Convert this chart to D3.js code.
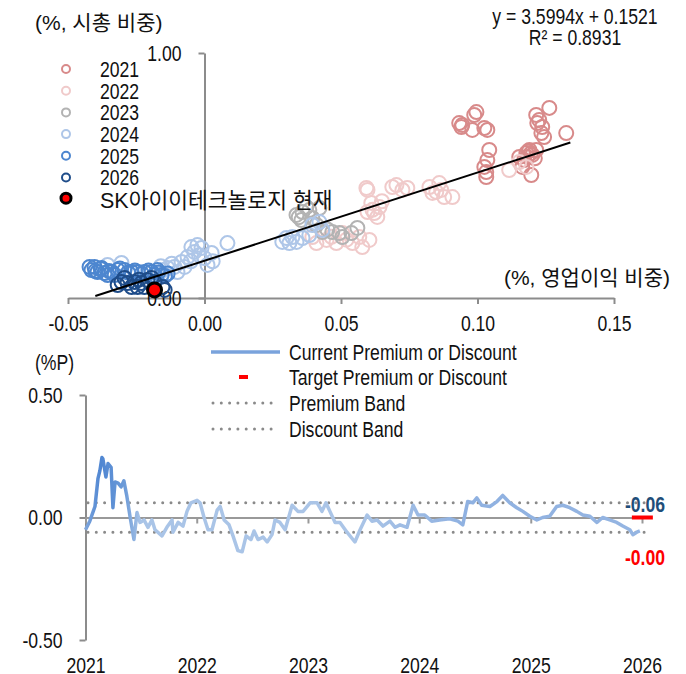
<!DOCTYPE html>
<html>
<head>
<meta charset="utf-8">
<script src="https://cdn.jsdelivr.net/npm/d3@7"></script>
<style>
  body { margin: 0; background: #fff; }
  svg { display: block; }
  text { font-family: "Liberation Sans", Arial, "Noto Sans CJK KR", sans-serif; fill: #111; }
</style>
</head>
<body>
<svg id="chart" width="686" height="674"></svg>
<script>
// ---------------- DATA ----------------
const scatterYears = ["2021", "2022", "2023", "2024", "2025", "2026"];
const scatterColors = ["#d88a8a", "#f0caca", "#b3b3b3", "#aec6e8", "#4d86cf", "#1f4d8a"];

const pts2021 = [[0.0941,0.698],[0.0944,0.706],[0.0988,0.747],[0.0996,0.759],[0.0981,0.686],[0.1025,0.694],[0.1036,0.686],[0.0933,0.714],
  [0.1043,0.604],[0.1036,0.563],[0.1025,0.535],[0.1032,0.514],[0.1032,0.494],
  [0.1263,0.776],[0.1215,0.747],[0.1226,0.727],[0.1219,0.714],[0.1237,0.698],[0.1234,0.673],[0.1244,0.657],[0.1325,0.673],
  [0.1179,0.592],[0.1190,0.604],[0.1201,0.584],[0.1171,0.563],[0.1182,0.576],[0.1215,0.604],[0.1164,0.535],[0.1197,0.502],[0.1153,0.576],
  [0.1195,0.590],[0.1210,0.570],[0.1185,0.598]];
const pts2022 = [[0.0597,0.441],[0.0593,0.449],[0.0611,0.388],[0.0641,0.371],[0.0622,0.347],[0.0633,0.331],[0.0597,0.351],
  [0.0688,0.453],[0.0725,0.441],[0.0743,0.449],[0.0703,0.461],[0.0824,0.453],[0.0849,0.433],[0.0867,0.441],[0.0878,0.412],
  [0.0908,0.412],[0.0835,0.429],[0.0860,0.469],[0.1116,0.522],[0.1179,0.535],[0.1153,0.555],
  [0.0447,0.237],[0.0483,0.224],[0.0542,0.224],[0.0604,0.237],[0.0505,0.265],[0.0567,0.249],[0.0410,0.224],[0.0395,0.249],[0.0578,0.208],
  [0.0615,0.360],[0.0650,0.395],[0.0465,0.250],[0.0520,0.238]];
const pts2023 = [[0.0337,0.339],[0.0359,0.351],[0.0373,0.371],[0.0355,0.318],[0.0395,0.327],[0.0432,0.269],[0.0468,0.269],
  [0.0494,0.265],[0.0505,0.249],[0.0560,0.286],[0.0538,0.265],[0.0410,0.298],[0.0384,0.359],[0.0421,0.367],[0.0345,0.330],[0.0450,0.280]];
const pts2024 = [[-0.0110,0.127],[-0.0084,0.147],[-0.0062,0.167],[-0.0037,0.188],[-0.0026,0.216],[-0.0048,0.208],[-0.0073,0.127],
  [-0.0099,0.106],[0.0011,0.135],[0.0000,0.163],[0.0084,0.224],[-0.0135,0.122],[0.0026,0.184],[-0.0011,0.204],[-0.0355,0.135],[-0.0304,0.143],
  [-0.0150,0.114],[-0.0120,0.140],[-0.0050,0.150],[-0.0020,0.175],[0.0030,0.150],[-0.0160,0.130],
  [0.0285,0.229],[0.0311,0.224],[0.0337,0.229],[0.0359,0.245],[0.0395,0.298],[0.0421,0.310],[0.0322,0.249],[0.0432,0.278],[0.0384,0.257],[0.0300,0.245]];
const pts2025 = [[-0.0414,0.114],[-0.0403,0.127],[-0.0392,0.106],[-0.0366,0.102],[-0.0340,0.106],[-0.0318,0.114],[-0.0293,0.114],
  [-0.0267,0.106],[-0.0245,0.106],[-0.0220,0.106],[-0.0194,0.106],[-0.0172,0.114],[-0.0157,0.094],[-0.0377,0.122],[-0.0355,0.094],
  [-0.0421,0.127],[-0.0183,0.094],[-0.0329,0.094],[-0.0400,0.110],[-0.0380,0.118],[-0.0350,0.110],[-0.0310,0.120],[-0.0280,0.104],
  [-0.0255,0.112],[-0.0230,0.100],[-0.0205,0.112],[-0.0170,0.104],[-0.0145,0.090],[-0.0135,0.100]];
const pts2026 = [[-0.0304,0.065],[-0.0282,0.061],[-0.0256,0.065],[-0.0231,0.061],[-0.0209,0.073],[-0.0267,0.045],[-0.0245,0.045],
  [-0.0220,0.045],[-0.0183,0.065],[-0.0154,0.045],[-0.0293,0.082],[-0.0194,0.082],[-0.0318,0.053],[-0.0146,0.033],[-0.0240,0.075]];
const currentPoint = [-0.0183, 0.033];
const currentLabel = "SK아이이테크놀로지 현재";

const trendSlope = 3.5994, trendIntercept = 0.1521, trendR2 = 0.8931;
const trendRange = [-0.04, 0.134];

const scatterXTicks = [-0.05, 0, 0.05, 0.10, 0.15];
const scatterYTicks = [0, 1];

const lineDates = ["2021-01-01","2021-01-15","2021-02-01","2021-02-11","2021-02-17","2021-02-24","2021-02-27","2021-03-09","2021-03-16","2021-03-26",
  "2021-04-01","2021-04-08","2021-04-18","2021-04-28","2021-05-07","2021-05-17","2021-05-27","2021-06-09","2021-06-19","2021-06-29",
  "2021-07-12","2021-07-25","2021-08-07","2021-08-17","2021-09-09","2021-09-25","2021-10-12","2021-10-15","2021-11-01","2021-11-17",
  "2021-11-30","2021-12-13","2022-01-02","2022-01-12","2022-01-25","2022-02-07","2022-02-20","2022-03-09","2022-03-19","2022-04-01",
  "2022-04-17","2022-04-30","2022-05-16","2022-05-30","2022-06-12","2022-06-28","2022-07-08","2022-07-21","2022-08-07","2022-08-20",
  "2022-09-05","2022-09-15","2022-10-01","2022-10-18","2022-11-10","2022-11-29","2022-12-16","2023-01-08","2023-01-31","2023-02-16",
  "2023-03-01","2023-03-14","2023-03-31","2023-04-16","2023-05-09","2023-06-04","2023-06-21","2023-07-14","2023-07-30","2023-08-16",
  "2023-09-04","2023-09-27","2023-10-14","2023-10-30","2023-11-22","2023-12-12","2023-12-28","2024-01-19","2024-02-11","2024-03-08",
  "2024-04-10","2024-05-07","2024-05-23","2024-06-08","2024-06-25","2024-07-08","2024-07-24","2024-08-20","2024-09-12","2024-10-01",
  "2024-10-24","2024-11-16","2024-12-06","2024-12-29","2025-01-21","2025-02-09","2025-03-04","2025-03-27","2025-04-16","2025-05-09",
  "2025-06-01","2025-06-21","2025-07-14","2025-08-06","2025-08-25","2025-09-17","2025-10-10","2025-10-30","2025-11-22","2025-12-02",
  "2025-12-15","2025-12-25"];
const lineValues = [-0.05,-0.015,0.045,0.16,0.19,0.245,0.24,0.165,0.22,0.205,
  0.04,0.145,0.14,0.125,0.15,0.085,0.005,-0.09,0.02,-0.02,
  -0.01,-0.04,-0.01,-0.05,-0.075,-0.04,-0.01,-0.06,-0.02,-0.035,
  0.025,0.06,0.07,0.06,0,-0.05,-0.05,0.03,0.045,-0.01,
  -0.03,-0.075,-0.135,-0.14,-0.075,-0.09,-0.055,-0.09,-0.08,-0.1,
  -0.07,-0.01,-0.02,-0.05,0.05,0.025,0.025,0.06,0.06,0.025,
  0.06,0.025,-0.02,-0.02,-0.06,-0.1,-0.05,0.01,-0.015,-0.01,
  -0.035,-0.015,-0.04,-0.03,-0.04,0.05,0.01,0.01,-0.015,-0.01,
  -0.005,-0.015,-0.03,0.065,0.06,0.08,0.05,0.045,0.065,0.09,
  0.06,0.04,0.025,0.005,-0.01,0,0.005,0.045,0.05,0.04,
  0.025,0.01,0.005,-0.02,0,-0.01,-0.02,-0.035,-0.05,-0.07,
  -0.06,-0.055];
const premiumBand = 0.06, discountBand = -0.06;
const targetValue = 0.0, targetDate = "2025-12-25";
const currentValueLabel = "-0.06", targetValueLabel = "-0.00";
const lineYTicks = [-0.5, 0, 0.5];
const lineLegend = ["Current Premium or Discount", "Target Premium or Discount", "Premium Band", "Discount Band"];

// ---------------- DRAW ----------------
const svg = d3.select("#chart");
const FS = 22;      // font size
const SX = 0.8;     // horizontal condensing of the Latin labels
const axisColor = "#8c8c8c";
const fmt2 = v => d3.format(".2f")(v).replace("\u2212", "-");

// text helper: condensed text anchored at (x, y) (y = vertical centre)
function label(x, y, str, opt = {}) {
  const g = svg.append("g").attr("transform", `translate(${x},${y})`);
  const t = g.append("text").attr("dy", "0.36em")
    .attr("font-size", opt.size || FS)
    .attr("text-anchor", opt.anchor || "start")
    .attr("transform", opt.noScale ? null : `scale(${SX},1)`)
    .text(str);
  if (opt.weight) t.attr("font-weight", opt.weight);
  if (opt.color) t.style("fill", opt.color);
  return t;
}

// ---- Scatter ----
const sx = d3.scaleLinear().domain([-0.05, 0.15]).range([68, 614]);
const sy = d3.scaleLinear().domain([0, 1]).range([298, 53]);

const gx = svg.append("g").attr("transform", `translate(0,${sy(0)})`)
  .call(d3.axisBottom(sx).tickValues(scatterXTicks).tickSize(6).tickSizeOuter(0).tickPadding(11).tickFormat(fmt2));
const gy = svg.append("g").attr("transform", `translate(${sx(0)},0)`)
  .call(d3.axisLeft(sy).tickValues(scatterYTicks).tickSize(6).tickSizeOuter(0).tickFormat(fmt2));
[gx, gy].forEach(g => {
  g.select(".domain").attr("stroke", axisColor).attr("stroke-width", 2);
  g.selectAll(".tick line").attr("stroke", axisColor).attr("stroke-width", 2);
  g.selectAll(".tick text").attr("font-size", FS).attr("fill", "#111").style("font-family", null)
    .attr("transform", `scale(${SX},1)`);
});
gy.selectAll(".tick text").attr("x", -23 / SX);
gx.selectAll(".tick text").filter(d => d < 0).attr("fill", "#ff0000");

const allPts = [pts2021, pts2022, pts2023, pts2024, pts2025, pts2026];
allPts.forEach((pts, i) => {
  svg.append("g").selectAll("circle").data(pts).join("circle")
    .attr("cx", d => sx(d[0])).attr("cy", d => sy(d[1])).attr("r", 7)
    .attr("fill", "none").attr("stroke", scatterColors[i]).attr("stroke-width", 2);
});

// trend line
svg.append("line")
  .attr("x1", sx(trendRange[0])).attr("y1", sy(trendSlope * trendRange[0] + trendIntercept))
  .attr("x2", sx(trendRange[1])).attr("y2", sy(trendSlope * trendRange[1] + trendIntercept))
  .attr("stroke", "#000").attr("stroke-width", 2);

// current point
svg.append("circle").attr("cx", sx(currentPoint[0])).attr("cy", sy(currentPoint[1])).attr("r", 7)
  .attr("fill", "#ff0000").attr("stroke", "#000").attr("stroke-width", 3);

// legend
const legY0 = 69, legStep = 21.7;
scatterYears.forEach((yr, i) => {
  svg.append("circle").attr("cx", 66).attr("cy", legY0 + i * legStep).attr("r", 4)
    .attr("fill", "none").attr("stroke", scatterColors[i]).attr("stroke-width", 2);
  label(100, legY0 + i * legStep, yr);
});
svg.append("circle").attr("cx", 66).attr("cy", legY0 + 6 * legStep - 1).attr("r", 5)
  .attr("fill", "#ff0000").attr("stroke", "#000").attr("stroke-width", 3);
label(100, legY0 + 6 * legStep + 1, currentLabel, { noScale: true, size: 21.5 });

// titles
label(35, 22, "(%, 시총 비중)", { noScale: true, size: 21 });
label(670, 277, "(%, 영업이익 비중)", { noScale: true, size: 21, anchor: "end" });
label(575, 16, `y = ${trendSlope}x + ${trendIntercept}`, { anchor: "middle" });
label(575, 37, `R² = ${trendR2}`, { anchor: "middle" });

// ---- Line chart ----
const parse = d3.timeParse("%Y-%m-%d");
const series = lineDates.map((d, i) => ({ date: parse(d), v: lineValues[i] }));
const lx = d3.scaleTime().domain([parse("2021-01-01"), parse("2026-01-01")]).range([85.5, 642]);
const ly = d3.scaleLinear().domain([-0.5, 0.5]).range([640, 395]);

const lgy = svg.append("g").attr("transform", `translate(85.5,0)`)
  .call(d3.axisLeft(ly).tickValues(lineYTicks).tickSize(6).tickSizeOuter(0).tickFormat(fmt2));
lgy.select(".domain").attr("stroke", axisColor).attr("stroke-width", 2);
lgy.selectAll(".tick line").attr("stroke", axisColor).attr("stroke-width", 2);
lgy.selectAll(".tick text").attr("font-size", FS).attr("fill", d => d < 0 ? "#ff0000" : "#111").style("font-family", null)
  .attr("transform", `scale(${SX},1)`).attr("x", -23 / SX);

// zero line with year ticks
const lgx = svg.append("g").attr("transform", `translate(0,${ly(0)})`)
  .call(d3.axisBottom(lx).ticks(d3.timeYear.every(1)).tickSize(6).tickSizeOuter(0).tickFormat(""));
lgx.select(".domain").attr("stroke", "#999").attr("stroke-width", 2);
lgx.selectAll(".tick line").attr("stroke", "#999").attr("stroke-width", 2);
svg.append("line").attr("x1", lx.range()[1]).attr("x2", 645).attr("y1", ly(0)).attr("y2", ly(0)).attr("stroke", "#999").attr("stroke-width", 2);

// year labels
const lgx2 = svg.append("g").attr("transform", `translate(0,655)`)
  .call(d3.axisBottom(lx).ticks(d3.timeYear.every(1)).tickSize(0).tickPadding(2).tickFormat(d3.timeFormat("%Y")));
lgx2.select(".domain").remove();
lgx2.selectAll(".tick text").attr("font-size", FS).attr("fill", "#111").style("font-family", null)
  .attr("transform", `scale(${SX},1)`);

// bands
[premiumBand, discountBand].forEach(b => {
  svg.append("line").attr("x1", 88).attr("x2", 645).attr("y1", ly(b)).attr("y2", ly(b))
    .attr("stroke", "#8a8a8a").attr("stroke-width", 3).attr("stroke-linecap", "round").attr("stroke-dasharray", "0 8.3");
});

// gradient for line
const defs = svg.append("defs");
const grad = defs.append("linearGradient").attr("id", "lineGrad").attr("gradientUnits", "userSpaceOnUse")
  .attr("x1", lx.range()[0]).attr("x2", lx.range()[1]).attr("y1", 0).attr("y2", 0);
const gstops = [["2021-01-01", "#7fa6dc"], ["2021-02-20", "#4f86d2"], ["2021-05-10", "#6d9bd8"], ["2021-07-01", "#a9c4e7"],
  ["2023-06-01", "#abc5e7"], ["2024-06-01", "#8fb1e1"], ["2025-12-31", "#95b5e2"]];
const t0 = lx.domain()[0], t1 = lx.domain()[1];
gstops.forEach(([d, c]) => grad.append("stop").attr("offset", (parse(d) - t0) / (t1 - t0)).attr("stop-color", c));

svg.append("path").datum(series)
  .attr("d", d3.line().x(d => lx(d.date)).y(d => ly(d.v)))
  .attr("fill", "none").attr("stroke", "url(#lineGrad)").attr("stroke-width", 3.5).attr("stroke-linejoin", "round");

// target dash
svg.append("line").attr("x1", lx(parse(targetDate)) - 8).attr("x2", lx(parse(targetDate)) + 13)
  .attr("y1", ly(targetValue)).attr("y2", ly(targetValue)).attr("stroke", "#ff0000").attr("stroke-width", 4);

// value labels
label(665, 504, currentValueLabel, { anchor: "end", weight: "bold", color: "#1f4e79" });
label(665, 557, targetValueLabel, { anchor: "end", weight: "bold", color: "#ff0000" });

// (%P)
label(35, 362, "(%P)");

// legend
const lLegY = [352, 377, 403, 429];
svg.append("line").attr("x1", 211).attr("x2", 280).attr("y1", lLegY[0]).attr("y2", lLegY[0]).attr("stroke", "#7aa3dc").attr("stroke-width", 3.5);
svg.append("line").attr("x1", 239).attr("x2", 248).attr("y1", lLegY[1]).attr("y2", lLegY[1]).attr("stroke", "#ff0000").attr("stroke-width", 4);
[2, 3].forEach(i => svg.append("line").attr("x1", 213).attr("x2", 272).attr("y1", lLegY[i]).attr("y2", lLegY[i])
  .attr("stroke", "#8a8a8a").attr("stroke-width", 3).attr("stroke-linecap", "round").attr("stroke-dasharray", "0 8.3"));
lineLegend.forEach((t, i) => label(289, lLegY[i], t));
</script>
</body>
</html>
